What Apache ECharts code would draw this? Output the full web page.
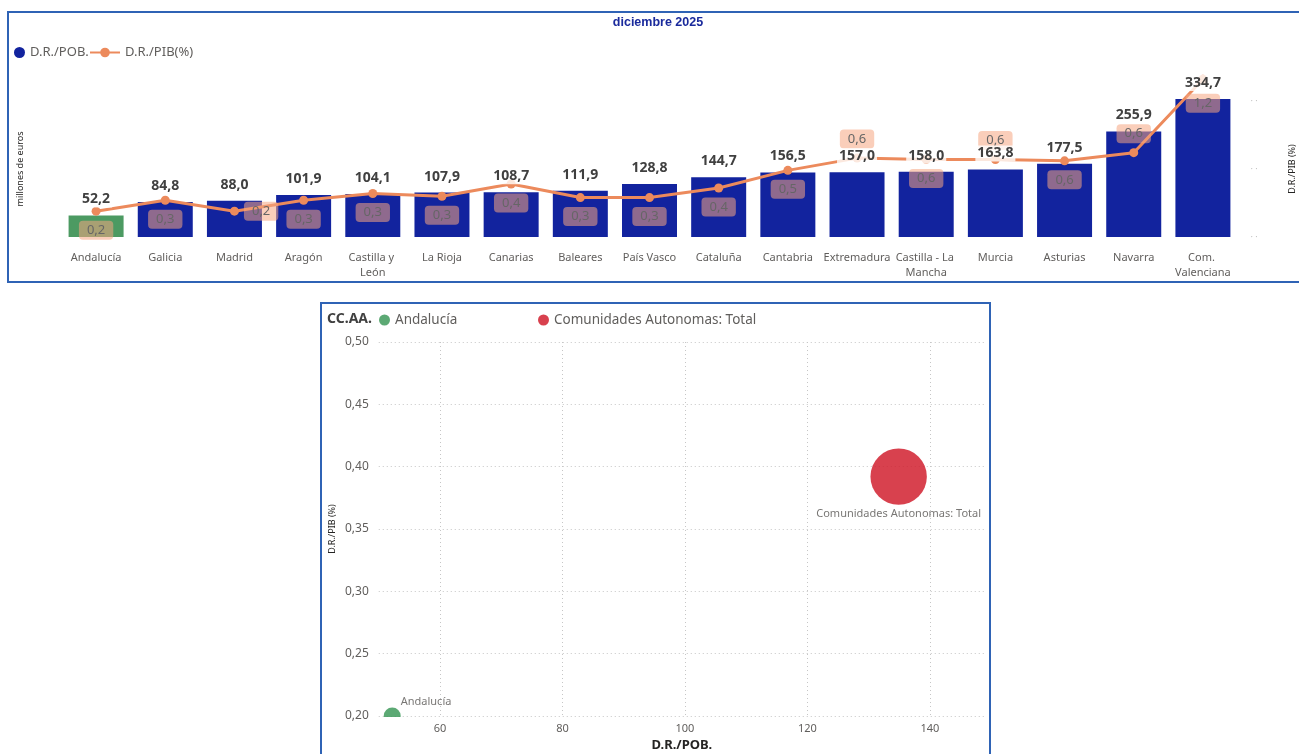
<!DOCTYPE html>
<html>
<head>
<meta charset="utf-8">
<script src="https://cdn.jsdelivr.net/npm/echarts@6/dist/echarts.min.js"></script>
<style>
html,body{margin:0;padding:0;background:#fff;}
#chart{width:1299px;height:754px;}
</style>
</head>
<body>
<div id="chart"></div>
<script>
// datos - diciembre 2025
var comunidades = ['Andalucía','Galicia','Madrid','Aragón','Castilla y León','La Rioja','Canarias','Baleares','País Vasco','Cataluña','Cantabria','Extremadura','Castilla - La Mancha','Murcia','Asturias','Navarra','Com. Valenciana'];
var drPob = [52.2, 84.8, 88.0, 101.9, 104.1, 107.9, 108.7, 111.9, 128.8, 144.7, 156.5, 157.0, 158.0, 163.8, 177.5, 255.9, 334.7];
var drPib = [0.19, 0.27, 0.19, 0.27, 0.32, 0.30, 0.39, 0.29, 0.29, 0.36, 0.49, 0.58, 0.57, 0.57, 0.56, 0.62, 1.16];

var burbujaNombres = ['Andalucía', 'Comunidades Autonomas: Total'];
var burbujaPob = [52.2, 134.9];
var burbujaPib = [0.2, 0.392];
var burbujaPeso = [1, 11];

var pobTicks = [60, 80, 100, 120, 140];

var FONT = '"Segoe UI", "Noto Sans", sans-serif';
var AZUL = '#12239e', VERDE = '#4c9a62', NARANJA = '#ec8a5c';
var GRIS = '#605e5c';

// donde va la etiqueta de la linea (por defecto debajo)
var posEtiqueta = {
  'Madrid': { position: 'right' },
  'Extremadura': { position: 'top' },
  'Murcia': { position: 'top' },
  'Navarra': { position: 'top' },
  'Com. Valenciana': { position: 'bottom', distance: 10 }
};

function coma(v, d) { return v.toFixed(d).replace('.', ','); }

var myChart = echarts.init(document.getElementById('chart'));

var lineaData = drPib.map(function (v, i) {
  return { value: v, label: posEtiqueta[comunidades[i]] || { position: 'bottom' } };
});

var punteado = { color: '#c6c6c6', type: [1, 3], width: 1 };

var option = {
  animation: false,
  textStyle: { fontFamily: FONT },
  graphic: [
    { type: 'rect', shape: { x: 8, y: 12, width: 1300, height: 270 }, style: { fill: 'none', stroke: '#2f63b5', lineWidth: 2 }, z: 0 },
    { type: 'rect', shape: { x: 321, y: 303, width: 669, height: 470 }, style: { fill: 'none', stroke: '#2f63b5', lineWidth: 2 }, z: 0 },
    { type: 'text', x: 658, y: 23, style: { text: 'diciembre 2025', fill: '#1a2a9c', font: 'bold 12.5px "Liberation Sans", Arial, sans-serif', align: 'center', verticalAlign: 'middle' } },
    { type: 'text', x: 327, y: 319, style: { text: 'CC.AA.', fill: '#404040', font: 'bold 14px ' + FONT, align: 'left', verticalAlign: 'middle' } },
    // tapa la mitad inferior de la burbuja de Andalucía (recorte del área)
    { type: 'rect', shape: { x: 378, y: 717, width: 26, height: 9 }, style: { fill: '#fff' }, z: 100 }
  ],
  legend: [
    { data: [{ name: 'D.R./POB.', itemStyle: { color: AZUL } }], left: 14, top: 46, padding: 0, icon: 'circle', itemWidth: 11, itemHeight: 11,
      textStyle: { color: GRIS, fontSize: 13, fontFamily: FONT } },
    { data: ['D.R./PIB(%)'], left: 89, top: 46, padding: 0, itemWidth: 30, itemHeight: 12,
      textStyle: { color: GRIS, fontSize: 13, fontFamily: FONT } },
    { data: ['Andalucía'], left: 379, top: 313, padding: 0, icon: 'circle', itemWidth: 11, itemHeight: 11,
      textStyle: { color: GRIS, fontSize: 13.5, fontFamily: FONT } },
    { data: ['Comunidades Autonomas: Total'], left: 538, top: 313, padding: 0, icon: 'circle', itemWidth: 11, itemHeight: 11,
      textStyle: { color: GRIS, fontSize: 13.5, fontFamily: FONT } }
  ],
  grid: [
    { left: 61.5, right: 61.5, top: 101, bottom: 517, outerBoundsMode: 'none' },
    { left: 378.75, right: 314, top: 342, bottom: 38, outerBoundsMode: 'none' }
  ],
  xAxis: [
    {
      type: 'category', gridIndex: 0, data: comunidades,
      axisLine: { show: false }, axisTick: { show: false },
      axisLabel: { color: GRIS, fontSize: 11, margin: 13, width: 68, overflow: 'break', lineHeight: 15, interval: 0 }
    },
    {
      type: 'value', gridIndex: 1, min: 50, max: 149,
      name: 'D.R./POB.', nameLocation: 'middle', nameGap: 23,
      nameTextStyle: { color: '#252423', fontSize: 13, fontWeight: 'bold' },
      axisLine: { show: false }, axisTick: { show: false, customValues: pobTicks },
      axisLabel: { color: GRIS, fontSize: 11, margin: 7, customValues: pobTicks },
      splitLine: { show: true, lineStyle: punteado }
    }
  ],
  yAxis: [
    {
      type: 'value', gridIndex: 0, min: 0, max: 329.9,
      name: 'millones de euros', nameLocation: 'middle', nameGap: 37, nameRotate: 90,
      nameTextStyle: { color: '#252423', fontSize: 9 },
      axisLine: { show: false }, axisTick: { show: false }, axisLabel: { show: false }, splitLine: { show: false }
    },
    {
      type: 'value', gridIndex: 0, min: 0, max: 1, interval: 0.5, position: 'right',
      name: 'D.R./PIB (%)', nameLocation: 'middle', nameGap: 50, nameRotate: 90,
      nameTextStyle: { color: '#252423', fontSize: 9 },
      axisLine: { show: false }, axisTick: { show: false },
      axisLabel: { color: '#c4c4c4', fontSize: 9, margin: 13, formatter: function () { return '· ·'; } },
      splitLine: { show: false }
    },
    {
      type: 'value', gridIndex: 1, min: 0.2, max: 0.5, interval: 0.05,
      name: 'D.R./PIB (%)', nameLocation: 'middle', nameGap: 42, nameRotate: 90,
      nameTextStyle: { color: '#252423', fontSize: 9 },
      axisLine: { show: false }, axisTick: { show: false },
      axisLabel: { color: GRIS, fontSize: 12, margin: 10, formatter: function (v) { return coma(v, 2); } },
      splitLine: { show: true, lineStyle: punteado }
    }
  ],
  series: [
    {
      name: 'D.R./POB.', type: 'bar', xAxisIndex: 0, yAxisIndex: 0,
      data: drPob, barWidth: 55, clip: false, z: 2,
      itemStyle: { color: function (p) { return p.name === 'Andalucía' ? VERDE : AZUL; } }
    },
    {
      name: 'D.R./PIB(%)', type: 'line', xAxisIndex: 0, yAxisIndex: 1,
      data: lineaData, clip: false, z: 3,
      symbol: 'circle', symbolSize: 9,
      lineStyle: { color: NARANJA, width: 3 }, itemStyle: { color: NARANJA },
      label: {
        show: true, distance: 5, color: '#666', fontSize: 13,
        backgroundColor: 'rgba(245,165,130,0.55)', padding: [3, 8], borderRadius: 4,
        formatter: function (p) { return coma(p.value, 1); }
      }
    },
    {
      // solo etiquetas de las barras, encima de la linea
      name: 'etiquetas', type: 'bar', xAxisIndex: 0, yAxisIndex: 0,
      data: drPob, barWidth: 55, barGap: '-100%', clip: false, z: 4, silent: true,
      itemStyle: { color: 'rgba(0,0,0,0)' },
      label: {
        show: true, position: 'top', distance: 8, color: '#404040', fontSize: 14, fontWeight: 'bold',
        backgroundColor: 'rgba(255,255,255,0.8)', padding: [1, 2],
        formatter: function (p) { return coma(p.value, 1); }
      }
    },
    {
      name: burbujaNombres[0], type: 'scatter', xAxisIndex: 1, yAxisIndex: 2, clip: false,
      data: [[burbujaPob[0], burbujaPib[0]]],
      symbolSize: 17 * Math.sqrt(burbujaPeso[0]),
      itemStyle: { color: '#3f9a5c', opacity: 0.85 },
      label: { show: true, formatter: burbujaNombres[0], position: [17, -6], align: 'left', verticalAlign: 'middle', color: GRIS, fontSize: 11 }
    },
    {
      name: burbujaNombres[1], type: 'scatter', xAxisIndex: 1, yAxisIndex: 2, clip: false,
      data: [[burbujaPob[1], burbujaPib[1]]],
      symbolSize: 17 * Math.sqrt(burbujaPeso[1]),
      itemStyle: { color: '#d1202f', opacity: 0.85 },
      label: { show: true, formatter: burbujaNombres[1], position: 'bottom', distance: 4, color: GRIS, fontSize: 11 }
    }
  ]
};

myChart.setOption(option);
</script>
</body>
</html>
